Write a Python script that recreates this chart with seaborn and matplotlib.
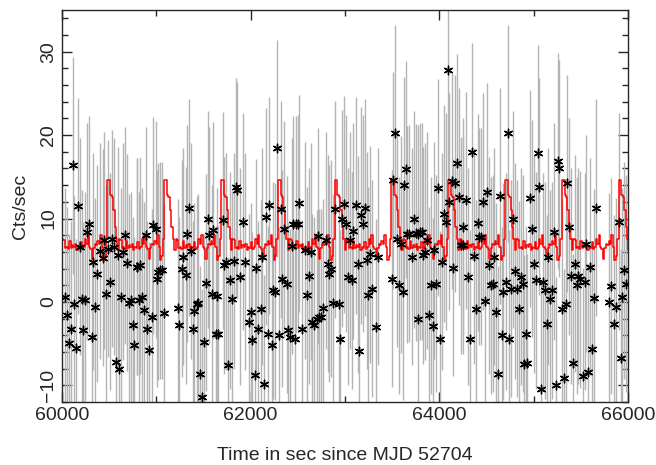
import numpy as np
import pandas as pd
import matplotlib
matplotlib.use('Agg')
import matplotlib.pyplot as plt
import seaborn as sns
from matplotlib.ticker import MultipleLocator

# Data lightcurve
waktu = [60032, 60056, 60074, 60092, 60113, 60131, 60148, 60173, 60191, 60209,
         60226, 60244, 60268, 60290, 60315, 60325, 60350, 60367, 60400, 60431,
         60445, 60466, 60491, 60509, 60527, 60551, 60572, 60597, 60608, 60622,
         60650, 60671, 60692, 60714, 60728, 60749, 60763, 60792, 60800, 60812,
         60828, 60845, 60869, 60890, 60904, 60925, 60951, 60968, 60993, 61004,
         61021, 61039, 61063, 61085, 61226, 61244, 61269, 61286, 61311, 61328,
         61346, 61367, 61385, 61402, 61428, 61445, 61463, 61487, 61508, 61523,
         61544, 61561, 61586, 61604, 61629, 61646, 61657, 61703, 61720, 61738,
         61763, 61784, 61805, 61823, 61841, 61858, 61887, 61922, 61940, 61982,
         62000, 62011, 62041, 62056, 62081, 62106, 62123, 62141, 62159, 62187,
         62198, 62223, 62240, 62258, 62276, 62300, 62321, 62335, 62356, 62382,
         62399, 62417, 62435, 62452, 62470, 62477, 62498, 62516, 62541, 62576,
         62600, 62618, 62636, 62653, 62671, 62700, 62717, 62724, 62745, 62770,
         62798, 62816, 62833, 62851, 62869, 62894, 62936, 62947, 62971, 62992,
         63010, 63035, 63053, 63070, 63088, 63113, 63134, 63151, 63169, 63194,
         63212, 63229, 63247, 63265, 63283, 63328, 63353, 63494, 63512, 63530,
         63548, 63572, 63593, 63611, 63628, 63646, 63660, 63681, 63707, 63731,
         63749, 63770, 63775, 63795, 63813, 63830, 63848, 63866, 63890, 63911,
         63929, 63946, 63961, 63989, 64007, 64025, 64049, 64070, 64088, 64106,
         64131, 64148, 64166, 64184, 64208, 64229, 64247, 64254, 64282, 64307,
         64325, 64349, 64367, 64388, 64406, 64423, 64441, 64466, 64484, 64508,
         64526, 64544, 64565, 64582, 64600, 64625, 64643, 64661, 64678, 64703,
         64724, 64742, 64759, 64784, 64802, 64820, 64841, 64862, 64883, 64900,
         64918, 64932, 64961, 64979, 65003, 65021, 65048, 65056, 65077, 65102,
         65120, 65138, 65155, 65173, 65197, 65219, 65237, 65254, 65272, 65296,
         65318, 65339, 65357, 65374, 65396, 65420, 65438, 65455, 65473, 65491,
         65519, 65544, 65554, 65572, 65597, 65615, 65639, 65657, 65798, 65818,
         65853, 65878, 65903, 65921, 65938, 65956, 65975]
laju = [0.6, -1.6, -4.9, -3.3, 16.4, -0.3, -5.5, 11.5, 6.6, 0.4,
        -3.4, 0.2, 8.4, 9.3, -4.2, 4.8, -0.6, 3.4, 6.1, 5.3,
        7.4, 1.0, 6.4, 2.4, 7.6, 6.6, -7.2, 5.6, -8.0, 0.6,
        6.0, 8.0, 4.7, -0.1, 0.2, -2.8, -5.2, 4.2, 4.2, 0.2,
        4.4, 0.6, -1.0, 8.0, -3.3, -5.8, -1.8, 9.2, 8.7, 2.8,
        3.6, 3.8, 3.8, -1.3, -0.7, -2.8, 4.0, 5.4, 3.2, 8.2,
        11.3, 6.1, -3.3, -1.1, -0.3, -0.1, -8.7, -11.4, -4.8, 2.3,
        9.9, 8.0, 1.0, 8.6, -3.9, 0.7, -3.8, 9.8, 4.4, 4.8,
        -7.6, 2.6, 0.3, 4.9, 13.8, 13.4, 3.0, 9.6, 4.8, -2.4,
        -1.2, -4.6, -8.8, 4.1, -3.3, -0.8, 5.4, -9.8, 10.2, -3.9,
        11.6, -5.2, 1.4, 1.2, 18.4, -4.0, 11.1, 2.8, 8.7, 2.1,
        -3.4, -4.2, 6.7, 9.3, -4.4, 9.3, 9.4, 11.8, -3.2, 6.2,
        0.8, 3.1, 6.0, -2.4, -2.8, -2.0, 7.9, -1.8, -1.8, -0.7,
        7.4, 4.6, 3.4, 4.0, -0.1, 11.1, -0.2, -4.4, 10.0, 11.7,
        9.4, 3.0, 7.4, 2.6, 8.5, 11.6, 4.5, -5.9, 10.4, 9.4,
        11.3, 5.0, 0.8, 5.7, 1.6, -3.0, 5.4, 2.8, 14.6, 20.2,
        7.6, 2.0, 6.9, 1.2, 14.0, 15.9, 8.1, 8.2, 5.4, 9.9,
        8.3, 8.2, -2.1, 8.4, 8.4, 5.6, 6.0, 7.4, -1.6, 2.0,
        -2.9, 6.2, 2.2, 13.7, -4.5, 4.8, 10.6, 9.6, 27.8, 12.0,
        14.5, 4.1, 14.2, 16.7, 12.6, 6.8, 9.0, 6.8, 12.2, 3.0,
        -4.4, 18.0, 5.5, -0.8, 9.5, 7.8, 7.8, 12.0, 0.1, 13.2,
        4.4, 2.0, 2.2, 5.4, -1.2, -8.7, 12.7, -4.0, 1.2, 2.4,
        20.2, -4.4, 1.6, 9.9, 3.7, 1.6, -0.9, 3.0, 2.2, -7.4,
        -3.9, -7.3, 12.4, 8.8, 4.5, 2.6, 17.8, 13.8, -10.4, 2.4,
        1.4, -2.6, 5.4, 0.4, 1.4, 8.4, -10.0, 16.9, 16.0, -0.8,
        -9.1, -0.3, 14.2, 9.0, 3.1, -7.3, 4.6, 2.0, 3.1, 2.7,
        -8.9, 2.4, 7.0, -8.4, 4.2, -5.7, 0.5, 11.3, 0.0, 1.9,
        -2.6, -0.6, 9.6, -6.7, 0.6, 3.8, 2.2]
galat = 13.0

# Profil model satu periode (40 bin), dimulai dari puncak
profil_model = [14.6, 14.6, 12.8, 12.6, 11.0, 9.0, 7.6, 6.2, 7.5, 7.4,
                6.5, 6.6, 6.4, 7.3, 6.5, 6.8, 6.6, 7.0, 6.2, 6.6,
                6.5, 7.2, 6.4, 6.6, 7.6, 7.0, 8.0, 6.6, 6.4, 5.2,
                6.5, 7.0, 6.8, 7.3, 7.0, 8.0, 6.6, 5.0, 5.5, 7.5]
periode = 602.0
geser = 8

df = pd.DataFrame({'waktu': waktu, 'laju': laju})
lebar_bin = periode / len(profil_model)
n_bin = int(np.ceil(6000 / lebar_bin)) + 1
idx = np.arange(n_bin)
model_df = pd.DataFrame({'waktu': 60000 + idx * lebar_bin,
                         'laju': [profil_model[(i + geser) % 40] for i in idx]})

sns.set_style('ticks')
plt.rcParams['font.family'] = ['Liberation Sans', 'DejaVu Sans']

fig = plt.figure(figsize=(6.56, 4.65), dpi=100)
ax = fig.add_axes([62 / 656, 1 - 402 / 465, 566 / 656, 392 / 465])

# Error bar abu-abu
ax.vlines(df['waktu'], df['laju'] - galat, df['laju'] + galat,
          color='#b4b4b4', linewidth=1.0, zorder=1)

# Model merah (step)
sns.lineplot(x='waktu', y='laju', data=model_df, drawstyle='steps-post',
             color='red', linewidth=1.1, ax=ax, zorder=2)

# Titik data
sns.scatterplot(x='waktu', y='laju', data=df, marker=(6, 2, 0), s=38,
                color='black', linewidth=1.0, ax=ax, zorder=3)

ax.set_xlim(60000, 66000)
ax.set_ylim(-12, 35)
ax.xaxis.set_major_locator(MultipleLocator(2000))
ax.xaxis.set_minor_locator(MultipleLocator(1000))
ax.yaxis.set_major_locator(MultipleLocator(10))
ax.yaxis.set_minor_locator(MultipleLocator(2))
ax.tick_params(which='both', direction='in', top=True, right=True, labelsize=14)
ax.tick_params(which='major', length=7, width=1)
ax.tick_params(which='minor', length=4, width=1)
for lbl in ax.get_yticklabels():
    lbl.set_rotation(90)
    lbl.set_va('center')
for s in ax.spines.values():
    s.set_linewidth(1.0)

ax.set_xlabel('Time in sec since MJD 52704', fontsize=14, labelpad=17)
ax.set_ylabel('Cts/sec', fontsize=14, labelpad=8)

fig.savefig('out.png', dpi=100)
